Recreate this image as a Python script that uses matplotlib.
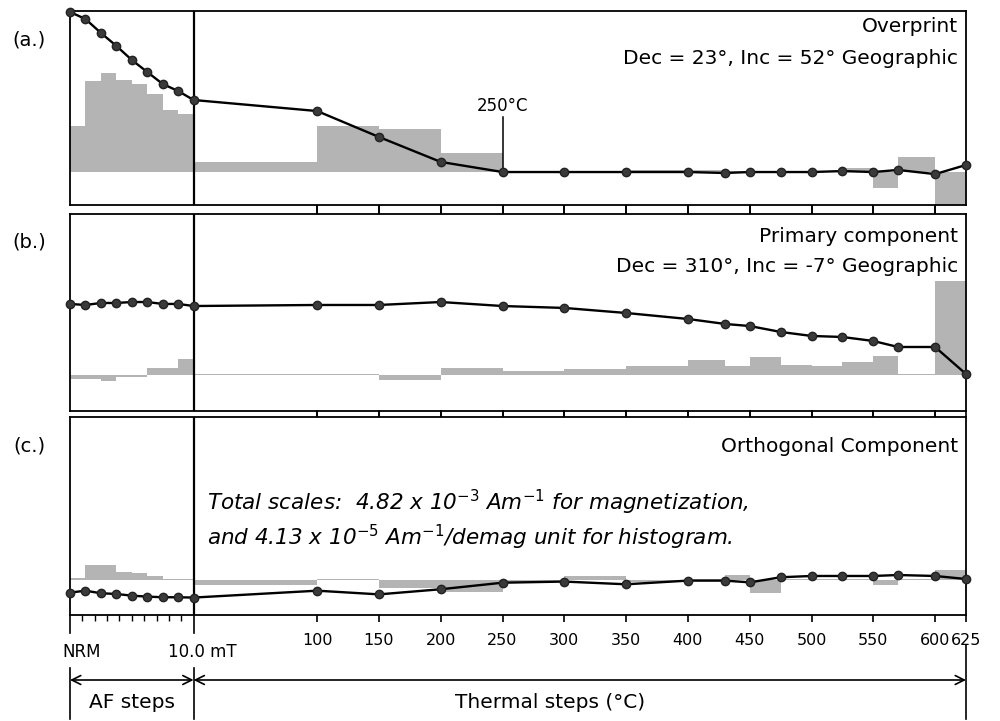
import matplotlib
matplotlib.use("Agg")
import matplotlib.pyplot as plt
import matplotlib.transforms as mtransforms

# demag steps: AF steps sit in the -100..0 slot, thermal steps at their temperature (deg C)
af_pos = [-100, -87.5, -75, -62.5, -50, -37.5, -25, -12.5, 0]
temps = [100, 150, 200, 250, 300, 350, 400, 430, 450, 475, 500, 525, 550, 570, 600, 625]
steps = af_pos + temps

# magnetization (fraction of total scale) and histogram (per demag step)
over_mag = [1.00, 0.956, 0.869, 0.788, 0.70, 0.625, 0.55, 0.506, 0.45,
            0.381, 0.219, 0.063, 0.0, 0.0, 0.0, 0.0, -0.006, 0.0, 0.0, 0.0, 0.006, 0.0, 0.013, -0.013, 0.044]
over_hist = [0.29, 0.57, 0.62, 0.575, 0.55, 0.49, 0.39, 0.36,
             0.06, 0.29, 0.27, 0.12, 0.005, 0.005, 0.012, 0.012, 0.005, 0.005, 0.005, 0.008, 0.025, -0.10, 0.094, -0.22]

prim_mag = [0.444, 0.4375, 0.45, 0.45, 0.456, 0.456, 0.444, 0.444, 0.431,
            0.4375, 0.4375, 0.456, 0.431, 0.419, 0.3875, 0.35, 0.319, 0.306, 0.269, 0.244, 0.2375, 0.2125, 0.175, 0.175, 0.006]
prim_hist = [-0.025, -0.025, -0.035, -0.012, -0.012, 0.044, 0.044, 0.10,
             0.004, 0.004, -0.03, 0.044, 0.025, 0.0375, 0.056, 0.094, 0.056, 0.1125, 0.0625, 0.056, 0.081, 0.119, 0.004, 0.5875]

orth_mag = [-0.079, -0.067, -0.083, -0.0875, -0.098, -0.104, -0.108, -0.108, -0.11,
            -0.067, -0.09, -0.058, -0.017, -0.01, -0.027, -0.004, -0.004, -0.015, 0.017, 0.025, 0.025, 0.025, 0.031, 0.025, 0.006]
orth_hist = [0.0125, 0.094, 0.094, 0.05, 0.044, 0.025, 0.003, 0.003,
             -0.03, 0.003, -0.05, -0.075, -0.01, 0.025, -0.01, 0.003, 0.03, -0.08, 0.003, 0.003, 0.003, -0.03, 0.003, 0.06]

thermal_ticks = [100, 150, 200, 250, 300, 350, 400, 450, 500, 550, 600, 625]
af_minor = [-90, -80, -70, -60, -50, -40, -30, -20, -10]

W, H = 1000, 721
def fy(ypx):
    return 1 - ypx / H

fig = plt.figure(figsize=(W / 100, H / 100), dpi=100)

rects = [[0.07, fy(205), 0.896, 194 / H],
         [0.07, fy(411), 0.896, 197 / H],
         [0.07, fy(615), 0.896, 198 / H]]
ylims = [(-0.206, 1.006), (-0.225, 1.006), (-0.219, 1.019)]
mags = [over_mag, prim_mag, orth_mag]
hists = [over_hist, prim_hist, orth_hist]

axes = []
for i in range(3):
    ax = fig.add_axes(rects[i])
    ax.stairs(hists[i], steps, baseline=0, fill=True, color='#b4b4b4', lw=0, zorder=1)
    ax.plot(steps, mags[i], '-o', color='k', lw=1.7, ms=6, mfc='#3a3a3a', mec='#222222',
            clip_on=False, zorder=3)
    ax.axvline(0, color='k', lw=1.6, zorder=2)
    ax.set_xlim(-100, 625)
    ax.set_ylim(*ylims[i])
    ax.set_yticks([])
    for s in ax.spines.values():
        s.set_linewidth(1.3)
    ax.set_xticks(thermal_ticks[:-1])
    ax.tick_params(axis='x', direction='out', length=6.5, width=1.2, labelbottom=False,
                   top=(i > 0), bottom=True)
    axes.append(ax)

axa, axb, axc = axes

# bottom axis of the last panel
axc.set_xticks(thermal_ticks, labels=[str(t) for t in thermal_ticks])
axc.set_xticks(af_minor, minor=True)
axc.tick_params(axis='x', which='major', length=5, width=1.2, pad=8, labelsize=11.5,
                labelbottom=True, top=True, bottom=True)
axc.tick_params(axis='x', which='minor', length=4, width=1.0, top=False, bottom=True)
tr_c = mtransforms.blended_transform_factory(axc.transData, axc.transAxes)
for xv in [-100, 0]:
    axc.plot([xv, xv], [0, -18 / 198], color='k', lw=1.2, transform=tr_c, clip_on=False)

# texts in panels
axa.text(0.991, (205 - 27) / 194, 'Overprint', ha='right', va='center', fontsize=14.5, transform=axa.transAxes)
axa.text(0.991, (205 - 58) / 194, 'Dec = 23°, Inc = 52° Geographic', ha='right', va='center',
         fontsize=14.5, transform=axa.transAxes)
axb.text(0.991, (411 - 237) / 197, 'Primary component', ha='right', va='center', fontsize=14.5,
         transform=axb.transAxes)
axb.text(0.991, (411 - 266) / 197, 'Dec = 310°, Inc = -7° Geographic', ha='right', va='center',
         fontsize=14.5, transform=axb.transAxes)
axc.text(0.991, (615 - 446) / 198, 'Orthogonal Component', ha='right', va='center', fontsize=14.5,
         transform=axc.transAxes)

axc.text((207 - 70) / 896, (615 - 502) / 198,
         r'Total scales:  4.82 x 10$^{\mathit{-3}}$ Am$^{\mathit{-1}}$ for magnetization,',
         ha='left', va='center', fontsize=15.5, style='italic', transform=axc.transAxes)
axc.text((207 - 70) / 896, (615 - 537) / 198,
         r'and 4.13 x 10$^{\mathit{-5}}$ Am$^{\mathit{-1}}$/demag unit for histogram.',
         ha='left', va='center', fontsize=15.5, style='italic', transform=axc.transAxes)

# 250 C marker
axa.plot([250, 250], [0, 0.344], color='k', lw=1.1, zorder=2)
axa.text(250, 0.41, '250°C', ha='center', va='center', fontsize=12)

# panel labels
for lab, ypx in [('(a.)', 40), ('(b.)', 242), ('(c.)', 446)]:
    fig.text(0.029, fy(ypx), lab, ha='center', va='center', fontsize=14)

# bottom annotation: AF / thermal step ranges
tr = mtransforms.blended_transform_factory(axc.transData, fig.transFigure)
fig.text(0.062, fy(652), 'NRM', ha='left', va='center', fontsize=12)
fig.text(0.168, fy(652), '10.0 mT', ha='left', va='center', fontsize=12)
for xv, y0 in [(-100, 668), (0, 668), (625, 645)]:
    axc.plot([xv, xv], [fy(y0), fy(719)], color='k', lw=1.2, transform=tr, clip_on=False)
for x0, x1 in [(-100, 0), (0, 625)]:
    axc.annotate('', xy=(x0, fy(680)), xytext=(x1, fy(680)), xycoords=tr, textcoords=tr,
                 arrowprops=dict(arrowstyle='<->', lw=1.2, color='k', shrinkA=0, shrinkB=0,
                                 mutation_scale=16))
fig.text(0.132, fy(703), 'AF steps', ha='center', va='center', fontsize=14.5)
fig.text(0.550, fy(703), 'Thermal steps (°C)', ha='center', va='center', fontsize=14.5)

fig.savefig('out.png', dpi=100)
